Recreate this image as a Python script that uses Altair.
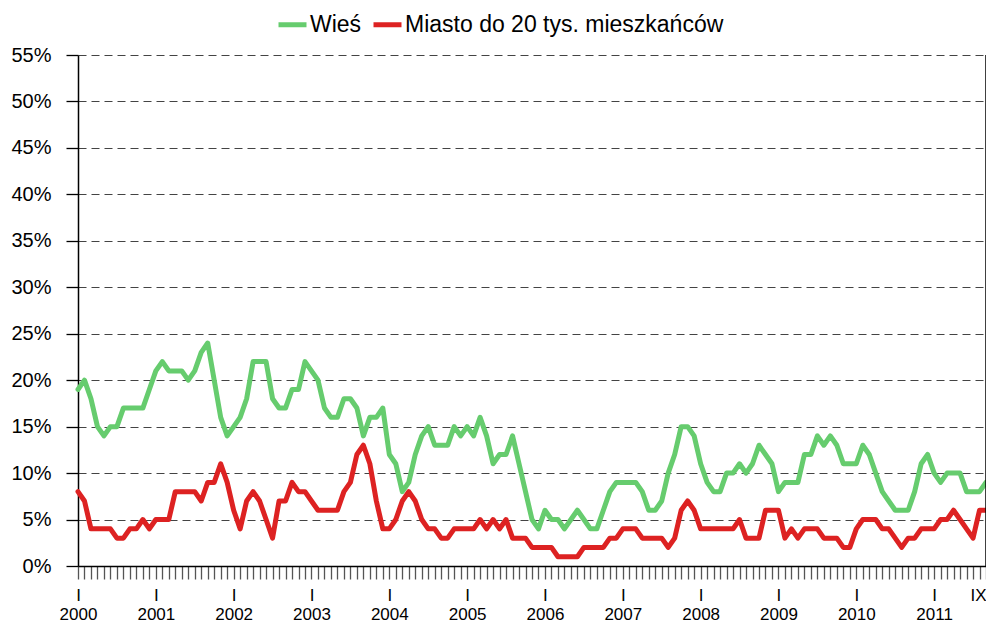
import altair as alt
import pandas as pd

# Monthly series, January 2000 .. September 2011 (141 months), values in %
years = list(range(2000, 2012))
last_month_label = "IX"

wies = [
    19, 20, 18, 15, 14, 15, 15, 17, 17, 17, 17, 19,   # 2000
    21, 22, 21, 21, 21, 20, 21, 23, 24, 20, 16, 14,   # 2001
    15, 16, 18, 22, 22, 22, 18, 17, 17, 19, 19, 22,   # 2002
    21, 20, 17, 16, 16, 18, 18, 17, 14, 16, 16, 17,   # 2003
    12, 11, 8, 9, 12, 14, 15, 13, 13, 13, 15, 14,     # 2004
    15, 14, 16, 14, 11, 12, 12, 14, 11, 8, 5, 4,      # 2005
    6, 5, 5, 4, 5, 6, 5, 4, 4, 6, 8, 9,               # 2006
    9, 9, 9, 8, 6, 6, 7, 10, 12, 15, 15, 14,          # 2007
    11, 9, 8, 8, 10, 10, 11, 10, 11, 13, 12, 11,      # 2008
    8, 9, 9, 9, 12, 12, 14, 13, 14, 13, 11, 11,       # 2009
    11, 13, 12, 10, 8, 7, 6, 6, 6, 8, 11, 12,         # 2010
    10, 9, 10, 10, 10, 8, 8, 8, 9,                    # 2011 (I-IX)
]

miasto = [
    8, 7, 4, 4, 4, 4, 3, 3, 4, 4, 5, 4,               # 2000
    5, 5, 5, 8, 8, 8, 8, 7, 9, 9, 11, 9,              # 2001
    6, 4, 7, 8, 7, 5, 3, 7, 7, 9, 8, 8,               # 2002
    7, 6, 6, 6, 6, 8, 9, 12, 13, 11, 7, 4,            # 2003
    4, 5, 7, 8, 7, 5, 4, 4, 3, 3, 4, 4,               # 2004
    4, 4, 5, 4, 5, 4, 5, 3, 3, 3, 2, 2,               # 2005
    2, 2, 1, 1, 1, 1, 2, 2, 2, 2, 3, 3,               # 2006
    4, 4, 4, 3, 3, 3, 3, 2, 3, 6, 7, 6,               # 2007
    4, 4, 4, 4, 4, 4, 5, 3, 3, 3, 6, 6,               # 2008
    6, 3, 4, 3, 4, 4, 4, 3, 3, 3, 2, 2,               # 2009
    4, 5, 5, 5, 4, 4, 3, 2, 3, 3, 4, 4,               # 2010
    4, 5, 5, 6, 5, 4, 3, 6, 6,                        # 2011 (I-IX)
]

series_names = ["Wieś", "Miasto do 20 tys. mieszkańców"]
series_colors = ["#66cc6e", "#dd2222"]
y_ticks = list(range(0, 56, 5))

n = len(wies)
df = pd.DataFrame({
    "t": list(range(n)) * 2,
    "series": [series_names[0]] * n + [series_names[1]] * n,
    "value": wies + miasto,
})

# label expression for x axis: "I" + year at each January, "IX" at the last month
parts = []
for k, yv in enumerate(years):
    parts.append(f"datum.value == {12 * k} ? ['I', '{yv}']")
parts.append(f"datum.value == {n - 1} ? ['{last_month_label}', '']")
x_label_expr = " : ".join(parts) + " : ''"

W, H = 908, 511

lines = alt.Chart(df).mark_line(strokeWidth=5, strokeJoin="round", strokeCap="round").encode(
    x=alt.X("t:Q",
            scale=alt.Scale(domain=[0, n - 1], nice=False, zero=False),
            axis=alt.Axis(values=list(range(n)), title=None, grid=False,
                          tickSize=13, tickColor="#555555", tickWidth=1.3,
                          domainColor="black", domainWidth=1.5,
                          labelExpr=x_label_expr, labelFontSize=17,
                          labelLineHeight=19, labelPadding=8, labelBaseline="top",
                          labelOverlap=False, labelFlush=False,
                          labelAlign={"condition": {"test": f"datum.value == {n - 1}", "value": "right"},
                                      "value": "center"},
                          labelColor="black")),
    y=alt.Y("value:Q",
            scale=alt.Scale(domain=[0, 55], nice=False),
            axis=alt.Axis(values=y_ticks, title=None, grid=True,
                          gridDash=[8, 5], gridColor="#444444", gridWidth=1.2,
                          tickSize=12, tickColor="black", tickWidth=1.3,
                          domainColor="black", domainWidth=1.5,
                          labelExpr="datum.value + '%'", labelFontSize=20,
                          labelPadding=15, labelColor="black")),
    color=alt.Color("series:N",
                    scale=alt.Scale(domain=series_names, range=series_colors),
                    legend=alt.Legend(title=None, orient="none", direction="horizontal",
                                      legendX=198, legendY=-47, symbolType="stroke",
                                      symbolStrokeWidth=5, symbolSize=784,
                                      labelFontSize=23, labelColor="black", labelLimit=0,
                                      labelOffset=1, columnPadding=1, padding=0)),
    order=alt.Order("t:Q"),
)

border = alt.Chart(alt.Data(values=[{}])).mark_rule(color="black", strokeWidth=1.5).encode(
    x=alt.value(W), y=alt.value(0), y2=alt.value(H)
)

chart = alt.layer(lines, border).properties(
    width=W, height=H,
    autosize=alt.AutoSizeParams(type="none"),
    padding={"left": 70, "top": 47, "right": 0, "bottom": 62},
).configure(
    font="Liberation Sans",
).configure_view(stroke=None)

chart.save("out.html", embed_options={"renderer": "svg", "actions": False})
